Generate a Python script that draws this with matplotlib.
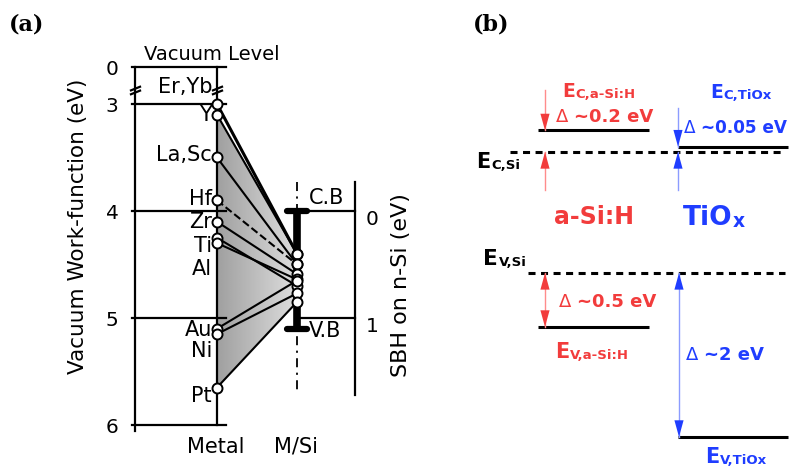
import numpy as np
import matplotlib
matplotlib.use("Agg")
import matplotlib.pyplot as plt
from matplotlib.path import Path
from matplotlib.patches import Polygon
from matplotlib.colors import LinearSegmentedColormap

# ---------------- panel (a): metal work functions and Schottky barriers ----------------
metals = ["Er,Yb", "Y", "La,Sc", "Hf", "Zr", "Ti", "Al", "Au", "Ni", "Pt"]
work_function = [3.0, 3.1, 3.5, 3.9, 4.1, 4.25, 4.3, 5.1, 5.15, 5.65]   # eV
barrier_height = [0.40, 0.40, 0.50, 0.50, 0.59, 0.70, 0.64, 0.65, 0.77, 0.85]  # SBH on n-Si, eV
dashed_metals = ["Hf"]
wf_ticks = [0, 3, 4, 5, 6]
sbh_ticks = [0, 1]
si_cb = 4.0   # Si conduction band edge below vacuum (eV)
si_vb = 5.1   # Si valence band edge below vacuum (eV)

# ---------------- panel (b): band offsets at the c-Si hetero-contacts ----------------
si_gap = 1.12
asi_offsets = [0.2, 0.5]      # (dEc, dEv) for a-Si:H
tiox_offsets = [0.05, 2.0]    # (dEc, dEv) for TiOx

W, H = 792, 466
fig = plt.figure(figsize=(W / 100, H / 100), dpi=100)
plt.rcParams["font.family"] = ["DejaVu Sans"]


def fpos(x, y):
    """figure-pixel position -> figure fraction"""
    return x / W, 1 - y / H


PT = 72 / 100  # points per pixel

# ======================= panel (a) =======================
ax_a = fig.add_axes([0, 0, 0.5, 1])
ax_a.axis("off")

SQ = 37 / 321  # compression of the 0-3 eV stretch of the broken axis


def wf_fwd(e):
    e = np.asarray(e, dtype=float)
    return np.where(e >= 3, e, 3 - (3 - e) * SQ)


def wf_inv(v):
    v = np.asarray(v, dtype=float)
    return np.where(v >= 3, v, 3 - (3 - v) / SQ)


X_AXIS, X_METAL, X_MSI, X_SBH = 135, 217, 297, 355
wf = np.array(work_function)
sbh_level = si_cb + np.array(barrier_height)
i_top = metals.index("Y")
i_bot = metals.index("Pt")

# shaded fan between metal and M/Si columns
fan = Polygon([(X_METAL, wf[i_top]), (X_MSI, sbh_level[i_top]),
               (X_MSI, sbh_level[i_bot]), (X_METAL, wf[i_bot])],
              closed=True, fc="none", ec="none", transform=ax_a.transData)
ax_a.add_patch(fan)
grey = LinearSegmentedColormap.from_list("fan", ["#a0a0a0", "#dedede"])
im = ax_a.imshow(np.linspace(0, 1, 256)[None, :], cmap=grey, aspect="auto",
                 extent=[X_METAL, X_MSI, wf[i_bot], wf[i_top]], zorder=1,
                 interpolation="bilinear")
im.set_clip_path(fan)

# frame of the work-function axis
ax_a.plot([X_AXIS, X_AXIS], [0, 6.06], color="k", lw=1.6, zorder=2)
ax_a.plot([X_METAL, X_METAL], [0, 6], color="k", lw=1.6, zorder=2)
for t in wf_ticks:
    ax_a.plot([132, 226], [t, t], color="k", lw=1.6, zorder=2)
    ax_a.annotate(str(t), (112, t), xytext=(0, -2.5 * PT), textcoords="offset points",
                  ha="center", va="center", fontsize=14.5)

# axis-break marks
brk = Path([(-1, -0.75), (1, 0.05), (-1, -0.05), (1, 0.75)],
           [Path.MOVETO, Path.LINETO, Path.MOVETO, Path.LINETO])
ax_a.plot([X_AXIS, X_METAL], [1.9, 1.9], ls="none", marker=brk, ms=8,
          mew=1.6, mec="k", zorder=3)

# metal -> M/Si connections
for name, w, s in zip(metals, wf, sbh_level):
    ls = "--" if name in dashed_metals else "-"
    lw = 2.2 if name == metals[0] else 1.5
    ax_a.plot([X_METAL, X_MSI], [w, s], color="k", lw=lw, ls=ls, zorder=3)

# Si band bar on the M/Si column
ax_a.plot([X_MSI, X_MSI], [3.73, 5.67], color="k", lw=1.3,
          ls=(0, (5, 3, 1.2, 3)), zorder=2)
ax_a.plot([X_MSI, X_MSI], [si_cb, si_vb], color="k", lw=5.5,
          solid_capstyle="butt", zorder=3)
for lev in (si_cb, si_vb):
    ax_a.plot([287, 307], [lev, lev], color="k", lw=4.5,
              solid_capstyle="round", zorder=3)

# SBH axis
ax_a.plot([X_SBH, X_SBH], [3.73, 5.72], color="k", lw=1.6, zorder=2)
for t in sbh_ticks:
    ax_a.plot([X_MSI, X_SBH], [si_cb + t, si_cb + t], color="k", lw=1.6, zorder=2)
    ax_a.annotate(str(t), (372, si_cb + t), xytext=(0, -9 * PT), textcoords="offset points",
                  ha="center", va="center", fontsize=14.5)

# data points
ax_a.plot([X_METAL] * len(wf), wf, "o", ms=7.2, mfc="white", mec="k", mew=1.4, zorder=5)
ax_a.plot([X_MSI] * len(wf), sbh_level, "o", ms=7.2, mfc="white", mec="k", mew=1.4, zorder=5)

# metal names (nudged to avoid overlaps), px offsets from their points
label_shift_px = [-17, 0, -2, -1, 0, 8, 26, 1, 17, 8]
for name, w, d in zip(metals, wf, label_shift_px):
    ax_a.annotate(name, (212, w), xytext=(0, -d * PT), textcoords="offset points",
                  ha="right", va="center", fontsize=15)

ax_a.annotate("C.B", (309, si_cb), xytext=(0, 13 * PT), textcoords="offset points",
              ha="left", va="center", fontsize=15)
ax_a.annotate("V.B", (309, si_vb), xytext=(0, -2 * PT), textcoords="offset points",
              ha="left", va="center", fontsize=15)

ax_a.set_yscale("function", functions=(wf_fwd, wf_inv))
ax_a.set_xlim(0, W / 2)
ax_a.set_ylim(float(wf_inv(4 + (H - 211) / 107)), float(wf_inv(4 - 211 / 107)))

fig.text(*fpos(212, 55), "Vacuum Level", ha="center", va="center", fontsize=14)
fig.text(*fpos(216, 447), "Metal", ha="center", va="center", fontsize=15)
fig.text(*fpos(296, 447), "M/Si", ha="center", va="center", fontsize=15)
fig.text(*fpos(78, 226), "Vacuum Work-function (eV)", rotation=90,
         ha="center", va="center", fontsize=15.5)
fig.text(*fpos(401, 285), "SBH on n-Si (eV)", rotation=90,
         ha="center", va="center", fontsize=16)
fig.text(*fpos(9, 25), "(a)", ha="left", va="center", fontsize=16,
         family="DejaVu Serif", fontweight="bold")
fig.text(*fpos(473, 25), "(b)", ha="left", va="center", fontsize=16,
         family="DejaVu Serif", fontweight="bold")

# ======================= panel (b) =======================
ax_b = fig.add_axes([0.5, 0, 0.5, 1])
ax_b.axis("off")

ec_si = 0.0
ev_si = ec_si - si_gap
ec_asi = ec_si + asi_offsets[0]
ev_asi = ev_si - asi_offsets[1]
ec_tiox = ec_si + tiox_offsets[0]
ev_tiox = ev_si - tiox_offsets[1]

E_BRK = ev_asi   # below this level the schematic energy axis is compressed
RB = 0.679


def be_fwd(e):
    e = np.asarray(e, dtype=float)
    return np.where(e >= E_BRK, e, E_BRK + (e - E_BRK) * RB)


def be_inv(v):
    v = np.asarray(v, dtype=float)
    return np.where(v >= E_BRK, v, E_BRK + (v - E_BRK) / RB)


ax_b.set_yscale("function", functions=(be_fwd, be_inv))
ax_b.set_xlim(W / 2, W)
K = 108.0  # px per eV in the uncompressed part
ax_b.set_ylim(float(be_inv(ec_si - (H - 152) / K)), float(be_inv(ec_si + 152 / K)))

RED, RED_L = "#f23c3c", "#ff8c8c"
BLUE, BLUE_L = "#1f3dff", "#8c9cff"

# Si reference levels
for x0, lev in ((510, ec_si), (528, ev_si)):
    ax_b.plot([x0, 785], [lev, lev], color="k", lw=2.2, dashes=(2.3, 1.8))
# contact layer band edges
for (x0, x1), lev in (((538, 649), ec_asi), ((538, 649), ev_asi),
                      ((678, 788), ec_tiox), ((678, 788), ev_tiox)):
    ax_b.plot([x0, x1], [lev, lev], color="k", lw=2.2, solid_capstyle="butt")


def arrow(x, y_tail, y_tip, color, light, both=False):
    ax_b.plot([x, x], [y_tail, y_tip], color=light, lw=1.0, zorder=2)
    style = "<|-|>" if both else "-|>"
    ax_b.annotate("", xy=(x, y_tip), xytext=(x, y_tail),
                  arrowprops=dict(arrowstyle=f"{style},head_length=12,head_width=3.3",
                                  mutation_scale=1, fc=color, ec="none", lw=0,
                                  shrinkA=0, shrinkB=0), zorder=3)


arrow(545, ec_asi + 0.37, ec_asi, RED, RED_L)
arrow(545, ec_si - 0.35, ec_si, RED, RED_L)
arrow(678, ec_tiox + 0.36, ec_tiox, BLUE, BLUE_L)
arrow(678, ec_si - 0.35, ec_si, BLUE, BLUE_L)
arrow(545, ev_si, ev_asi, RED, RED_L, both=True)
arrow(679, ev_si, ev_tiox, BLUE, BLUE_L, both=True)


def level_label(x, y, sub, color, size, subsize=9.5):
    t = fig.text(*fpos(x, y), "E", ha="left", va="baseline", fontsize=size,
                 fontweight="bold", color=color)
    ax_b.annotate(sub, xy=(1, 0), xycoords=t, xytext=(0.5, 0), textcoords="offset points",
                  ha="left", va="bottom", fontsize=subsize, fontweight="bold", color=color)


level_label(562, 97, "C,a-Si:H", RED, 13.5)
level_label(710, 98, "C,TiOx", BLUE, 13.5)
level_label(476, 168, "C,Si", "k", 15)
level_label(483, 265, "V,Si", "k", 15.5)
level_label(555, 358, "V,a-Si:H", RED, 15)
level_label(705, 463, "V,TiOx", BLUE, 15)


def offset_label(x, y, value, color, size=13):
    t = fig.text(*fpos(x, y), "\u0394 ", ha="left", va="center", fontsize=size, color=color)
    ax_b.annotate(f"~{value:g} eV", xy=(1, 0.5), xycoords=t, ha="left", va="center",
                  fontsize=size, fontweight="bold", color=color)


offset_label(556, 117, asi_offsets[0], RED)
offset_label(684, 128, tiox_offsets[0], BLUE, size=12.2)
offset_label(559, 302, asi_offsets[1], RED)
offset_label(686, 355, tiox_offsets[1], BLUE)

fig.text(*fpos(594, 217), "a-Si:H", ha="center", va="center", fontsize=17,
         fontweight="bold", color=RED)
tio = fig.text(*fpos(683, 218), "TiO", ha="left", va="center", fontsize=19,
               fontweight="bold", color=BLUE)
ax_b.annotate("x", xy=(1, 0), xycoords=tio, ha="left", va="bottom", fontsize=13.5,
              fontweight="bold", color=BLUE)

fig.savefig("out.png", dpi=100)
